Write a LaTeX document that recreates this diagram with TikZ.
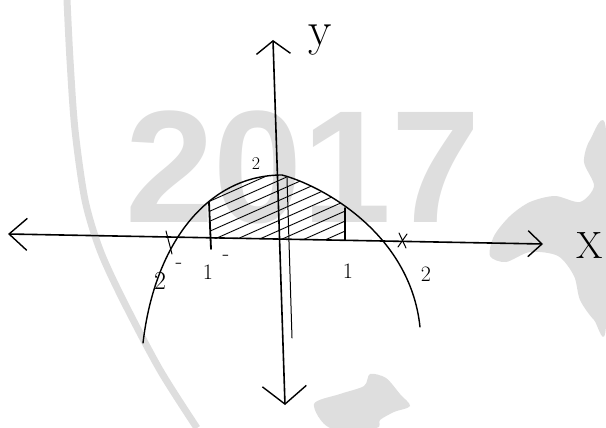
\documentclass[tikz,border=0pt]{standalone}
\usepackage{fontspec}
\newfontfamily\wmfont{Liberation Sans}
\usetikzlibrary{arrows.meta}
\begin{document}
\begin{tikzpicture}[x=1pt,y=-1pt,
  ink/.style={line width=1.4pt,black,line cap=round},
  axisline/.style={line width=1.6pt,black,line cap=round},
  hatch/.style={line width=0.9pt,black},
  lbl/.style={inner sep=0pt,font=\fontsize{22}{22}\selectfont},
  wm/.style={color=black!13}]
\useasboundingbox (0,0) rectangle (606,428);
% watermark
\node[wm,inner sep=0pt,font=\wmfont\bfseries\fontsize{160}{160}\selectfont] (wmtext) at (303,167) {2017};
\draw[wm,line width=7pt] plot[smooth] coordinates {(67,0) (70,60) (75,130) (85,200) (100,250) (123,300) (160,370) (197,428)};
\fill[wm] plot[smooth cycle] coordinates {(606,130) (590,140) (584,162) (594,186) (580,202) (555,196) (530,202) (510,216) (494,236) (490,256) (506,262) (530,252) (558,256) (574,276) (580,300) (594,320) (606,326)};
\fill[wm] plot[smooth cycle] coordinates {(330,428) (314,404) (340,394) (364,386) (370,374) (386,378) (400,394) (410,406) (394,412) (380,420) (376,428)};
% coordinates
\coordinate (xl) at (8,234);
\coordinate (xr) at (543,244);
\coordinate (yt) at (273,40);
\coordinate (yb) at (285,405);
\coordinate (cl) at (143,343);
\coordinate (ctop) at (282,175);
\coordinate (cr) at (420,327);
% hatching
\begin{scope}
\clip (210,150) rectangle (345,238);
\clip (cl) .. controls (155,240) and (210,175) .. (ctop) .. controls (320,185) and (410,232) .. (cr) -- cycle;
\foreach \k in {-10,...,10} {
  \draw[hatch] (190,{250+10*\k}) -- (370,{170+10*\k});
}
\end{scope}
% axes
\draw[axisline,{Straight Barb[length=18pt,width=32pt,line width=1.4pt]}-{Straight Barb[length=14pt,width=26pt,line width=1.4pt]}] (xl) -- (xr);
\draw[axisline,{Straight Barb[length=13pt,width=34pt,line width=1.4pt]}-{Straight Barb[length=18pt,width=44pt,line width=1.4pt]}] (yt) -- (yb);
\coordinate (ys1) at (287,178);
\coordinate (ys2) at (292,338);
\draw[ink,line width=1pt] (ys1) -- (ys2);
% curve
\draw[ink] (cl) .. controls (155,240) and (210,175) .. (ctop) .. controls (320,185) and (410,232) .. (cr);
% strips
\coordinate (s1t) at (209,202); \coordinate (s1b) at (211,249);
\coordinate (s2t) at (345,208); \coordinate (s2b) at (345,240);
\draw[ink,line width=1.8pt] (s1t) -- (s1b);
\draw[ink,line width=1.6pt] (s2t) -- (s2b);
% tick marks
\coordinate (t1a) at (166,231); \coordinate (t1b) at (172,254);
\draw[ink,line width=1pt] (t1a) -- (t1b);
\coordinate (t2a) at (399,233); \coordinate (t2b) at (406,248);
\coordinate (t2c) at (407,234); \coordinate (t2d) at (398,247);
\draw[ink,line width=1pt] (t2a) -- (t2b) (t2c) -- (t2d);
% labels
\node[inner sep=0pt,font=\fontsize{48}{48}\selectfont] (ylab) at (320,40) {y};
\node[inner sep=0pt,font=\fontsize{38}{38}\selectfont] (xlab) at (590,246) {X};
\node[lbl,font=\fontsize{18}{18}\selectfont] (ltop) at (256,164) {2};
\node[lbl,font=\fontsize{26}{26}\selectfont] (lm2) at (160,281) {2};
\node[lbl] (dm2) at (179,266) {-};
\node[lbl] (lm1) at (208,272) {1};
\node[lbl] (dm1) at (226,258) {-};
\node[lbl] (lp1) at (348,271) {1};
\node[lbl] (lp2) at (426,274) {2};
\end{tikzpicture}
\end{document}
